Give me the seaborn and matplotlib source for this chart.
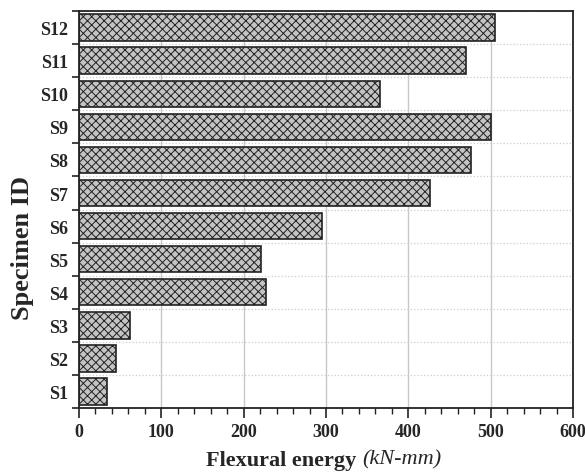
import numpy as np
import pandas as pd
import matplotlib
matplotlib.use('Agg')
import matplotlib.pyplot as plt
import seaborn as sns
from matplotlib.ticker import MultipleLocator, FixedLocator

# 数据
specimens = ['S1', 'S2', 'S3', 'S4', 'S5', 'S6', 'S7', 'S8', 'S9', 'S10', 'S11', 'S12']
energy = [34.5, 45, 61.5, 227.5, 221, 295, 426, 476, 501, 365, 470, 505]

sns.set_style('white')
plt.rcParams['font.family'] = ['Liberation Serif', 'DejaVu Serif']
plt.rcParams['hatch.color'] = '#333333'
plt.rcParams['hatch.linewidth'] = 0.7

df = pd.DataFrame({'Specimen': specimens, 'Energy': energy})

fig = plt.figure(figsize=(5.85, 4.77), dpi=100)
ax = fig.add_axes([0.135, 0.1426, 0.8445, 0.832])

sns.barplot(data=df, x='Energy', y='Specimen', order=specimens[::-1],
            color='#c4c4c4', saturation=1, width=0.8,
            edgecolor='#222222', linewidth=1.2, hatch='xxxx', ax=ax)

ax.set_xlim(0, 600)
ax.set_ylim(len(specimens) - 0.5, -0.5)
ax.xaxis.set_major_locator(MultipleLocator(100))
ax.xaxis.set_minor_locator(MultipleLocator(20))
ax.yaxis.set_minor_locator(FixedLocator(np.arange(-0.5, len(specimens), 1.0)))

ax.grid(axis='x', which='major', color='#c8c8c8', linewidth=1.0)
ax.grid(axis='y', which='minor', color='#cccccc', linestyle=':', linewidth=0.9)
ax.set_axisbelow(True)

for sp in ax.spines.values():
    sp.set_visible(True)
    sp.set_color('#222222')
    sp.set_linewidth(1.3)

ax.tick_params(axis='x', which='major', bottom=True, direction='out', length=7,
               width=1.2, labelsize=13, pad=4, color='#222222')
ax.tick_params(axis='x', which='minor', bottom=True, direction='out', length=4,
               width=1.0, color='#222222')
ax.tick_params(axis='y', which='major', left=False, length=0, labelsize=13, pad=8)
ax.tick_params(axis='y', which='minor', left=True, direction='out', length=5,
               width=1.2, color='#222222')
for lab in ax.get_xticklabels() + ax.get_yticklabels():
    lab.set_fontweight('bold')

ax.set_ylabel('Specimen ID', fontsize=19, fontweight='bold')
ax.yaxis.set_label_coords(-0.092, 0.405)
ax.set_xlabel('')
ax.text(0.573, -0.105, 'Flexural energy ', transform=ax.transAxes, fontsize=16,
        fontweight='bold', ha='right', va='top')
ax.text(0.573, -0.105, '(kN-mm)', transform=ax.transAxes, fontsize=16,
        fontstyle='italic', ha='left', va='top')

fig.savefig('out.png', dpi=100)
